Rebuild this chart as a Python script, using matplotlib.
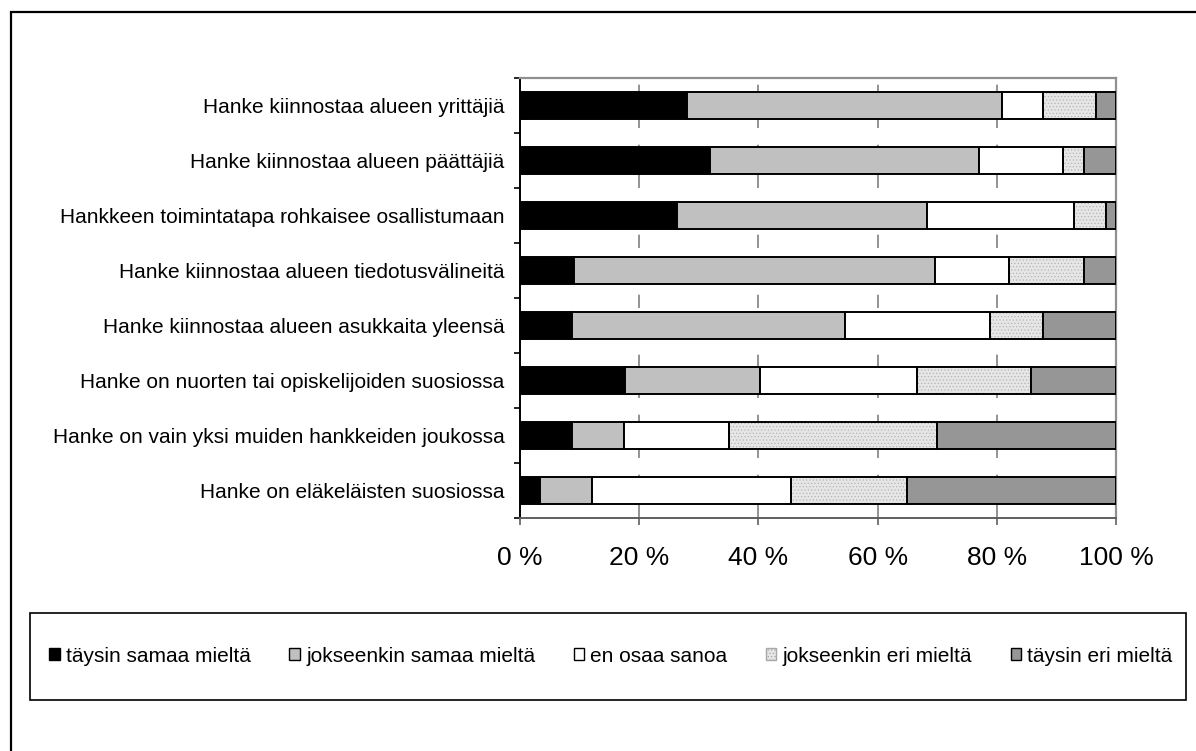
import matplotlib
matplotlib.use('Agg')
import matplotlib.pyplot as plt
import matplotlib.patches as patches
from matplotlib.patches import Patch
import numpy as np

plt.rcParams['font.family'] = ['Liberation Sans', 'DejaVu Sans']
plt.rcParams['hatch.linewidth'] = 0.5

categories = [
    "Hanke kiinnostaa alueen yrittäjiä",
    "Hanke kiinnostaa alueen päättäjiä",
    "Hankkeen toimintatapa rohkaisee osallistumaan",
    "Hanke kiinnostaa alueen tiedotusvälineitä",
    "Hanke kiinnostaa alueen asukkaita yleensä",
    "Hanke on nuorten tai opiskelijoiden suosiossa",
    "Hanke on vain yksi muiden hankkeiden joukossa",
    "Hanke on eläkeläisten suosiossa",
]
series_names = ["täysin samaa mieltä", "jokseenkin samaa mieltä", "en osaa sanoa",
                "jokseenkin eri mieltä", "täysin eri mieltä"]

taysin_samaa = [28.0, 31.8, 26.3, 9.1, 8.8, 17.6, 8.8, 3.4]
jokseenkin_samaa = [52.8, 45.2, 42.0, 60.5, 45.7, 22.7, 8.7, 8.6]
en_osaa = [7.0, 14.1, 24.6, 12.5, 24.3, 26.3, 17.5, 33.4]
jokseenkin_eri = [8.8, 3.5, 5.4, 12.5, 9.0, 19.2, 35.0, 19.5]
taysin_eri = [3.4, 5.4, 1.7, 5.4, 12.2, 14.2, 30.0, 35.1]

x_ticks = [0, 20, 40, 60, 80, 100]
x_labels = ["0 %", "20 %", "40 %", "60 %", "80 %", "100 %"]

series = [taysin_samaa, jokseenkin_samaa, en_osaa, jokseenkin_eri, taysin_eri]
faces = ['#000000', '#c0c0c0', '#ffffff', '#e6e6e6', '#969696']
hatches = [None, None, None, '.....', None]

fig = plt.figure(figsize=(11.96, 7.51), dpi=100)
fig.patch.set_facecolor('white')

# outer chart border (runs off the right and bottom of the image)
fig.patches.append(patches.Rectangle((11 / 1196, -0.05), 1.2, 1 - 12 / 751 + 0.05,
                                     transform=fig.transFigure, fill=False,
                                     edgecolor='black', linewidth=1.6, zorder=0))

ax = fig.add_axes([520 / 1196, 1 - 518 / 751, 596 / 1196, 440 / 751])

y = np.arange(len(categories))
left = np.zeros(len(categories))
for vals, fc, h in zip(series, faces, hatches):
    vals = np.array(vals)
    if h:
        ax.barh(y, vals, left=left, height=0.5, color=fc, hatch=h,
                edgecolor='#b4b4b4', linewidth=0, zorder=2)
        ax.barh(y, vals, left=left, height=0.5, fill=False,
                edgecolor='black', linewidth=1.4, zorder=3)
    else:
        ax.barh(y, vals, left=left, height=0.5, color=fc,
                edgecolor='black', linewidth=1.4, zorder=3)
    left += vals

ax.set_xlim(0, 100)
ax.set_ylim(len(categories) - 0.5, -0.5)

ax.set_xticks(x_ticks)
ax.set_xticklabels(x_labels, fontsize=19)
ax.tick_params(axis='x', direction='out', length=5, width=1.2, color='#606060', pad=15)

ax.set_yticks(np.arange(-0.5, len(categories), 1.0))
ax.set_yticklabels([])
ax.set_yticks(y, minor=True)
ax.set_yticklabels(categories, minor=True, fontsize=15)
ax.tick_params(axis='y', which='major', direction='out', length=4, width=1.2, color='black')
ax.tick_params(axis='y', which='minor', length=0, pad=11)

for gx in x_ticks[1:-1]:
    ax.axvline(gx, color='#808080', linewidth=1.2, linestyle=(0, (8, 10)), zorder=1)

ax.spines['left'].set_color('black')
ax.spines['left'].set_linewidth(1.4)
ax.spines['bottom'].set_color('#606060')
ax.spines['bottom'].set_linewidth(1.4)
ax.spines['top'].set_color('#909090')
ax.spines['top'].set_linewidth(1.6)
ax.spines['right'].set_color('#909090')
ax.spines['right'].set_linewidth(1.6)

# legend box
fig.patches.append(patches.Rectangle((30 / 1196, 1 - 700 / 751), 1156 / 1196, 87 / 751,
                                     transform=fig.transFigure, fill=False,
                                     edgecolor='black', linewidth=1.2))
handles = [Patch(facecolor=fc, edgecolor='black' if not h else '#a8a8a8', hatch=h,
                 linewidth=1.0, label=n)
           for fc, h, n in zip(faces, hatches, series_names)]
fig.legend(handles=handles, loc='center', bbox_to_anchor=(611 / 1196, 1 - 656 / 751),
           ncol=5, frameon=False, fontsize=15, handlelength=0.5, handleheight=0.5,
           handletextpad=0.3, columnspacing=1.85, borderaxespad=0)

fig.savefig('out.png', dpi=100)
